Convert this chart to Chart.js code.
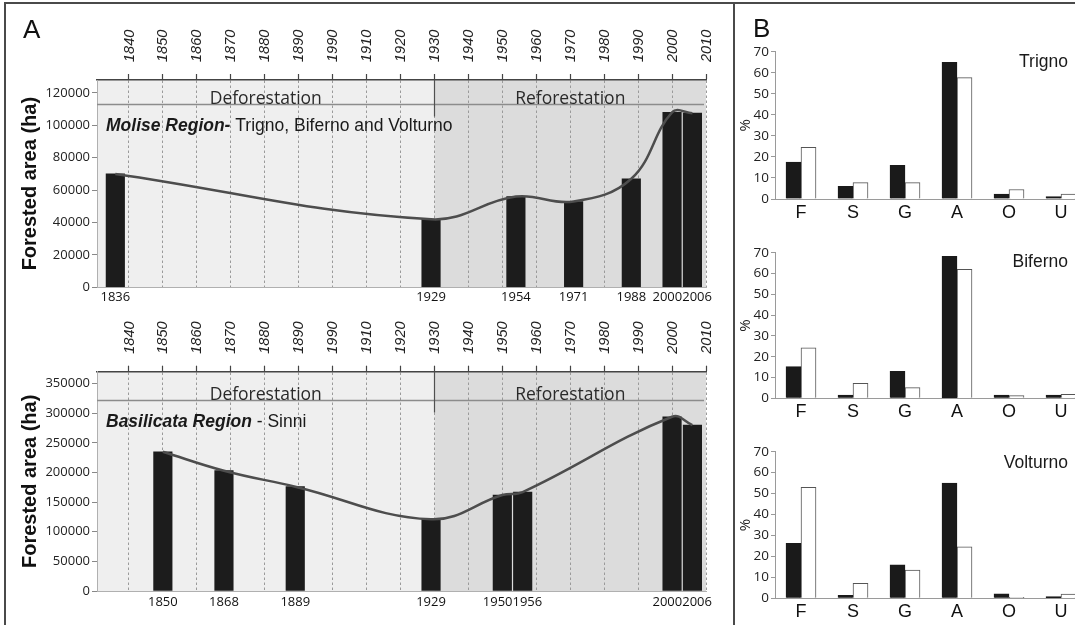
<!DOCTYPE html>
<html>
<head>
<meta charset="utf-8">
<script src="https://cdn.jsdelivr.net/npm/chart.js@4.4.1/dist/chart.umd.min.js"></script>
<style>
html,body{margin:0;padding:0;background:#fff;width:1075px;height:625px;overflow:hidden;}
#wrap{position:relative;width:1075px;height:625px;overflow:hidden;background:#fff;}
canvas{position:absolute;}
.frame{position:absolute;background:#4a4a4a;}
.plabel{position:absolute;font-family:"Liberation Sans",Arial,sans-serif;font-size:26px;line-height:26px;color:#111;}
</style>
</head>
<body>
<div id="wrap">
  <canvas id="a1" width="735" height="310" style="left:0;top:0"></canvas>
  <canvas id="a2" width="735" height="315" style="left:0;top:310px"></canvas>
  <canvas id="b1" width="352" height="225" style="left:735px;top:0"></canvas>
  <canvas id="b2" width="352" height="200" style="left:735px;top:225px"></canvas>
  <canvas id="b3" width="352" height="200" style="left:735px;top:425px"></canvas>
  <div class="frame" style="left:4px;top:2px;width:1071px;height:1.5px"></div>
  <div class="frame" style="left:4px;top:2px;width:1.5px;height:623px"></div>
  <div class="frame" style="left:733px;top:2px;width:2px;height:623px"></div>
  <div class="plabel" style="left:23px;top:16px">A</div>
  <div class="plabel" style="left:753px;top:15px">B</div>
</div>
<script>
// ---------- DATA ----------
const decadeTicks = [1840,1850,1860,1870,1880,1890,1900,1910,1920,1930,1940,1950,1960,1970,1980,1990,2000,2010];
const decadeLabels = ['1840','1850','1860','1870','1880','1890','1990','1910','1920','1930','1940','1950','1960','1970','1980','1990','2000','2010'];
const periodSplit = 1930;
const phaseLabels = ['Deforestation', 'Reforestation'];

const moliseYears = [1836, 1929, 1954, 1971, 1988, 2000, 2006];
const moliseArea  = [70000, 42000, 56000, 53000, 67000, 108000, 107500];
const moliseTitle = ['Molise Region-', ' Trigno, Biferno and Volturno'];

const basilicataYears = [1850, 1868, 1889, 1929, 1950, 1956, 2000, 2006];
const basilicataArea  = [235000, 203000, 176000, 121000, 162000, 167000, 294000, 280000];
const basilicataTitle = ['Basilicata Region', ' - Sinni'];

const yAxisTitle = 'Forested area (ha)';

const landCats = ['F','S','G','A','O','U'];
const trignoBlack   = [17.5, 6.0, 16.0, 65.0, 2.3, 1.1];
const trignoWhite   = [24.5, 7.8, 7.8, 57.7, 4.5, 2.3];
const bifernoBlack  = [15.2, 1.6, 13.0, 68.3, 1.6, 1.6];
const bifernoWhite  = [24.3, 7.2, 5.1, 62.0, 1.3, 1.9];
const volturnoBlack = [26.3, 1.4, 16.0, 55.0, 2.1, 0.8];
const volturnoWhite = [53.0, 7.2, 13.5, 24.6, 0.5, 2.0];
const basinNames = ['Trigno', 'Biferno', 'Volturno'];

// ---------- PLUGINS ----------
const bandPlugin = {
  id: 'band',
  beforeDraw(chart, args, o) {
    const {ctx, chartArea: a, scales: {x}} = chart;
    const sx = x.getPixelForValue(o.split);
    ctx.save();
    ctx.fillStyle = '#efefef';
    ctx.fillRect(a.left, a.top, sx - a.left, a.bottom - a.top);
    ctx.fillStyle = '#dcdcdc';
    ctx.fillRect(sx, a.top, a.right - sx, a.bottom - a.top);
    ctx.restore();
  },
  afterDatasetsDraw(chart, args, o) {
    const {ctx, chartArea: a, scales: {x, y}} = chart;
    const sx = Math.round(x.getPixelForValue(o.split)) + 0.5;
    const ly = Math.round(y.getPixelForValue(o.bandValue)) + 0.5;
    ctx.save();
    ctx.strokeStyle = '#8c8c8c';
    ctx.lineWidth = 1.5;
    ctx.beginPath(); ctx.moveTo(a.left, ly); ctx.lineTo(a.right - 2, ly); ctx.stroke();
    ctx.strokeStyle = '#505050';
    ctx.lineWidth = 1.2;
    ctx.beginPath(); ctx.moveTo(sx, a.top); ctx.lineTo(sx, ly + 12); ctx.stroke();
    ctx.fillStyle = '#2a2a2a';
    ctx.font = '17.5px "Open Sans"';
    ctx.textAlign = 'center';
    ctx.textBaseline = 'alphabetic';
    ctx.fillText(o.phases[0], (a.left + sx) / 2, ly - 1);
    ctx.fillText(o.phases[1], (sx + a.right) / 2, ly - 1);
    // region title
    ctx.textAlign = 'left';
    ctx.fillStyle = '#1a1a1a';
    ctx.font = 'italic bold 17.5px "Liberation Sans"';
    const tx = a.left + 9, ty = ly + 26;
    ctx.fillText(o.title[0], tx, ty);
    const w = ctx.measureText(o.title[0]).width;
    ctx.font = '17.5px "Liberation Sans"';
    ctx.fillText(o.title[1], tx + w, ty);
    // bar year labels under the axis
    const ds = chart.data.datasets.find(d => d.type === 'bar' || !d.type);
    ctx.font = '13px "Open Sans"';
    ctx.textAlign = 'center';
    ctx.textBaseline = 'middle';
    ctx.fillStyle = '#111';
    const items = ds.data.map(p => {
      const t = String(p.x);
      return {t, c: x.getPixelForValue(p.x), w: ctx.measureText(t).width};
    });
    for (let pass = 0; pass < 6; pass++) {
      for (let i = 1; i < items.length; i++) {
        const p = items[i - 1], q = items[i];
        const need = (p.w + q.w) / 2;
        const d = q.c - p.c;
        if (d < need) { const s = (need - d) / 2; p.c -= s; q.c += s; }
      }
    }
    items.forEach(it => ctx.fillText(it.t, it.c, a.bottom + o.labelGap));
    ctx.restore();
  }
};

const basinLabelPlugin = {
  id: 'basinLabel',
  afterDraw(chart, args, o) {
    const {ctx} = chart;
    ctx.save();
    ctx.font = '17.5px "Liberation Sans"';
    ctx.fillStyle = '#1a1a1a';
    ctx.textAlign = 'right';
    ctx.textBaseline = 'middle';
    ctx.fillText(o.text, o.x, o.y);
    ctx.restore();
  }
};

Chart.defaults.devicePixelRatio = 1;
Chart.defaults.animation = false;

function makeA(id, years, areas, cfg) {
  const pts = years.map((yr, i) => ({x: yr, y: areas[i]}));
  return new Chart(document.getElementById(id), {
    type: 'bar',
    data: {
      datasets: [
        {type: 'line', data: pts, borderColor: '#4d4d4d', borderWidth: 2.5, pointRadius: 0,
         tension: 0.4, fill: false, order: 0, xAxisID: 'x', yAxisID: 'y'},
        {type: 'bar', data: pts, backgroundColor: '#1c1c1c', barThickness: 18.5,
         order: 1, xAxisID: 'x', yAxisID: 'y'}
      ]
    },
    options: {
      responsive: false,
      layout: {padding: {left: 0, right: 29, top: 0, bottom: 0}},
      plugins: {
        legend: {display: false}, tooltip: {enabled: false},
        band: {split: periodSplit, bandValue: cfg.bandValue, phases: phaseLabels,
               title: cfg.title, labelGap: cfg.labelGap}
      },
      scales: {
        x: {
          type: 'linear', position: 'bottom', min: 1830.6, max: 2010, offset: false,
          grid: {display: false, offset: false},
          border: {display: true, color: '#b0b0b0', width: 1},
          ticks: {display: false},
          afterFit(s) { s.height = cfg.bottomH; }
        },
        xTop: {
          type: 'linear', axis: 'x', position: 'top', min: 1830.6, max: 2010, offset: false,
          afterBuildTicks(s) { s.ticks = decadeTicks.map(v => ({value: v})); },
          ticks: {
            autoSkip: false, minRotation: 90, maxRotation: 90, padding: 12, labelOffset: 18,
            color: '#222', font: {family: '"Liberation Sans"', size: 14.5, style: 'italic'},
            callback: (v, i) => decadeLabels[i]
          },
          grid: {display: true, drawOnChartArea: true, drawTicks: true, tickLength: 6,
                 color: '#9a9a9a', lineWidth: 1, tickColor: '#444', tickWidth: 1.2, offset: false},
          border: {display: true, color: '#444', width: 1.5, dash: [2.5, 2.5]},
          afterFit(s) { s.height = cfg.topH; }
        },
        y: {
          type: 'linear', position: 'left', min: 0, max: cfg.yMax,
          afterBuildTicks(s) {
            const t = [];
            for (let v = 0; v <= cfg.yMax; v += cfg.yStep) t.push({value: v});
            s.ticks = t;
          },
          ticks: {padding: 2, color: '#222', font: {family: '"Open Sans"', size: 13},
                  callback: v => String(v)},
          grid: {display: true, drawOnChartArea: false, drawTicks: true, tickLength: 5,
                 tickColor: '#888'},
          border: {display: true, color: '#b0b0b0', width: 1},
          title: {display: true, text: yAxisTitle, color: '#111', padding: {top: 18, bottom: 0},
                  font: {family: '"Liberation Sans"', size: 20, weight: 'bold'}},
          afterFit(s) { s.width = 97; }
        }
      }
    },
    plugins: [bandPlugin]
  });
}

makeA('a1', moliseYears, moliseArea,
  {yMax: 128000, yStep: 20000, bandValue: 113300, title: moliseTitle, topH: 80, bottomH: 22.7, labelGap: 10});
makeA('a2', basilicataYears, basilicataArea,
  {yMax: 370000, yStep: 50000, bandValue: 321800, title: basilicataTitle, topH: 61.7, bottomH: 34, labelGap: 11.5});

function makeB(id, black, white, name, padTop, axisH, labelY) {
  return new Chart(document.getElementById(id), {
    type: 'bar',
    data: {
      labels: landCats,
      datasets: [
        {data: black, backgroundColor: '#1a1a1a', borderColor: '#1a1a1a', borderWidth: 1, barThickness: 15},
        {data: white, backgroundColor: '#ffffff', borderColor: '#555', borderWidth: 1, barThickness: 15}
      ]
    },
    options: {
      responsive: false,
      layout: {padding: {left: 0, right: 0, top: padTop, bottom: 0}},
      plugins: {legend: {display: false}, tooltip: {enabled: false},
                basinLabel: {text: name, x: 333, y: labelY}},
      scales: {
        x: {
          type: 'category', offset: true,
          grid: {display: false, drawTicks: false},
          border: {display: true, color: '#9a9a9a', width: 1},
          ticks: {padding: 3, color: '#111', font: {family: '"Liberation Sans"', size: 18}},
          afterFit(s) { s.height = axisH; }
        },
        y: {
          min: 0, max: 70,
          afterBuildTicks(s) {
            const t = [];
            for (let v = 0; v <= 70; v += 10) t.push({value: v});
            s.ticks = t;
          },
          ticks: {padding: 2, color: '#222', font: {family: '"Open Sans"', size: 13.5}},
          grid: {display: true, drawOnChartArea: false, drawTicks: true, tickLength: 4, tickColor: '#999'},
          border: {display: true, color: '#9a9a9a', width: 1},
          title: {display: true, text: '%', color: '#222', padding: {top: 2, bottom: 0},
                  font: {family: '"Open Sans"', size: 15}},
          afterFit(s) { s.width = 40; }
        }
      }
    },
    plugins: [basinLabelPlugin]
  });
}

makeB('b1', trignoBlack, trignoWhite, basinNames[0], 51.7, 26, 62);
makeB('b2', bifernoBlack, bifernoWhite, basinNames[1], 27.7, 26.7, 37);
makeB('b3', volturnoBlack, volturnoWhite, basinNames[2], 26.7, 26.7, 38);
</script>
</body>
</html>
